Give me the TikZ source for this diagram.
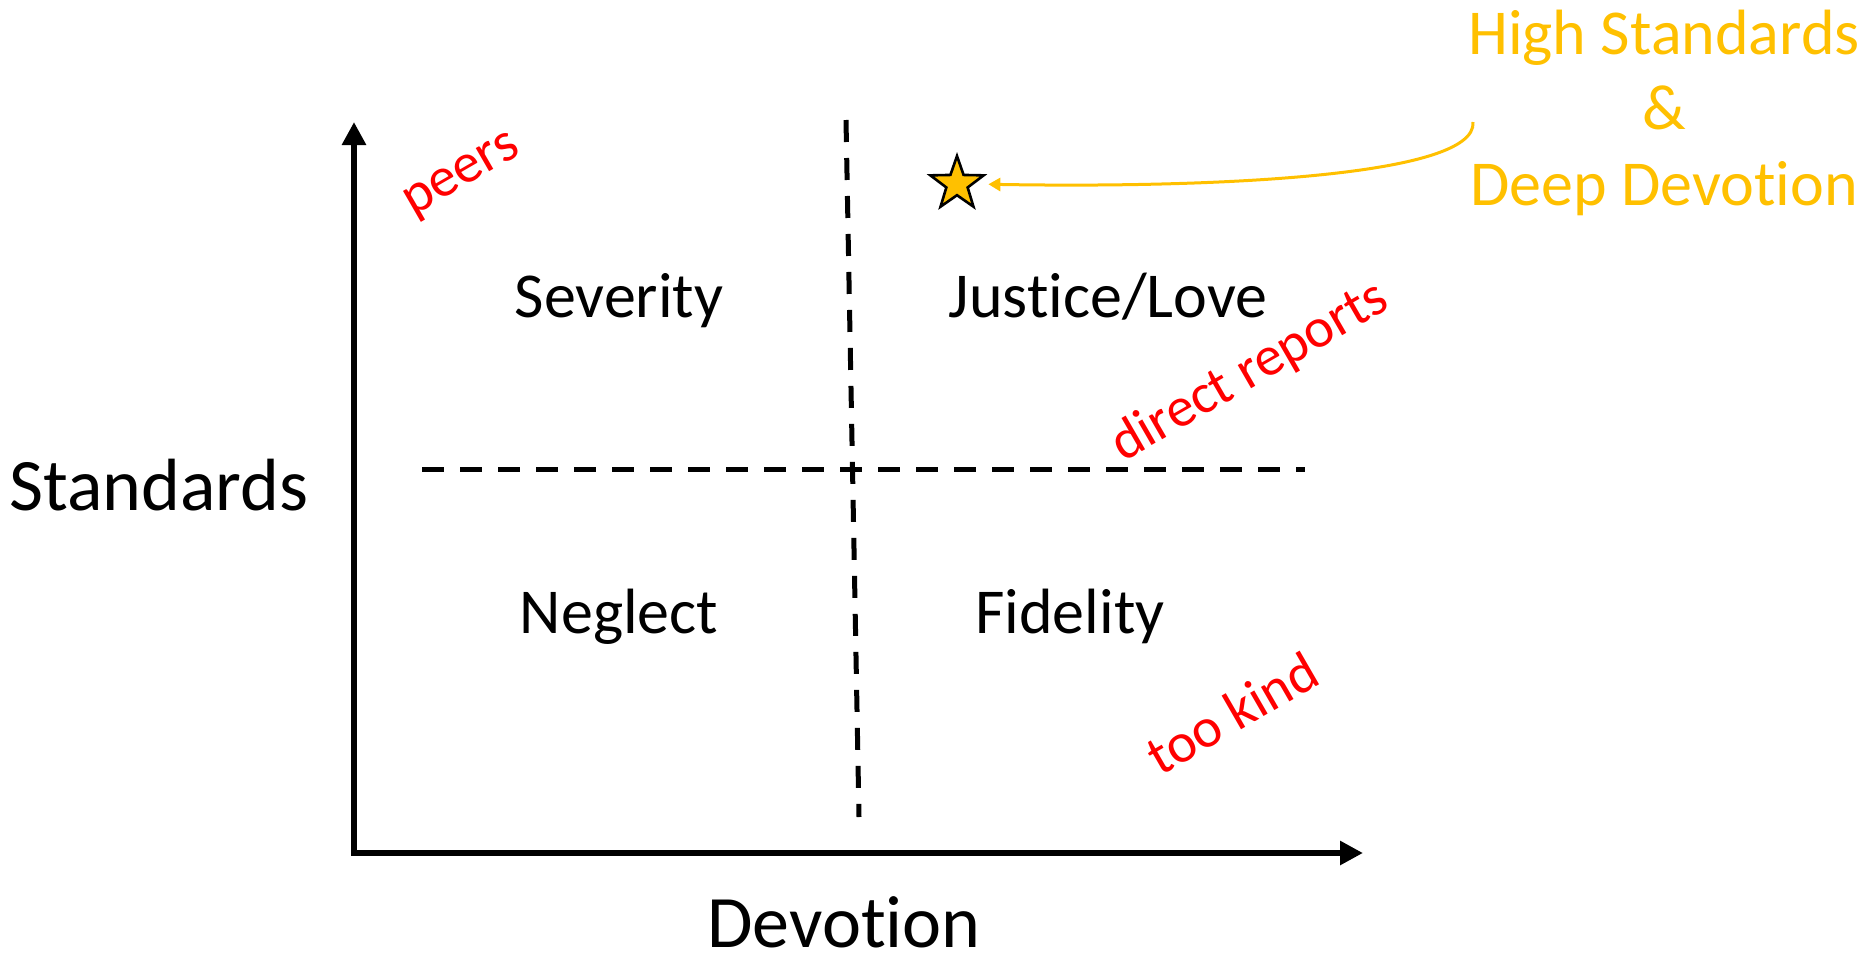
\documentclass[tikz,border=0pt]{standalone}
\usepackage{fontspec}
\setmainfont{Carlito}[Ligatures=NoCommon,Contextuals=NoAlternate]
\usetikzlibrary{arrows.meta,shapes.geometric}
\definecolor{gold}{HTML}{FFC000}
\definecolor{redlbl}{HTML}{FF0000}
\tikzset{
  axis/.style={line width=3pt,{Triangle[length=11.5pt,width=11.5pt]}-{Triangle[length=11.5pt,width=11.5pt]},line join=miter},
  divider/.style={line width=2.5pt,dash pattern=on 11pt off 8pt},
  quad/.style={anchor=base,font=\fontsize{32}{38}\selectfont},
  axlabel/.style={anchor=base,text depth=0pt,font=\fontsize{37}{44}\selectfont},
  redtag/.style={text=redlbl,rotate=30,inner sep=0pt,font=\fontsize{28}{34}\selectfont},
  goldtxt/.style={anchor=base,text=gold,font=\fontsize{32}{38}\selectfont},
  starmark/.style={star,star points=5,star point ratio=2.5,minimum size=28pt,inner sep=0pt,fill=gold,draw=black,line width=1.3pt},
  callout/.style={draw=gold,line width=1.5pt,-{Triangle[length=6pt,width=6.5pt]}}
}
\begin{document}
\begin{tikzpicture}[x=0.5pt,y=-0.5pt]
\useasboundingbox (0,0) rectangle (1870,959);
% axes
\coordinate (origin) at (354,853);
\coordinate (ytip) at (354,122);
\coordinate (xtip) at (1363,853);
\draw[axis] (ytip) -- (origin) -- (xtip);
% dividers
\coordinate (vtop) at (846,120);
\coordinate (vbot) at (859,817);
\coordinate (hleft) at (422,469);
\coordinate (hright) at (1305,469);
\draw[divider] (vtop) -- (vbot);
\draw[divider] (hleft) -- (hright);
% quadrant labels
\node[quad] (sev) at (619,317) {Severity};
\node[quad] (jus) at (1108,317) {Justice/Love};
\node[quad] (neg) at (619,633) {Neglect};
\node[quad] (fid) at (1070,633) {Fidelity};
% axis labels
\node[axlabel] (stdlbl) at (159,510) {Standards};
\node[axlabel] (devlbl) at (844,947) {Devotion};
% red tags
\node[redtag] (peers) at (463,177) {peers};
\node[redtag] (direct) at (1250,372) {direct reports};
\node[redtag] (kind) at (1232,713) {too kind};
% star and callout
\node[starmark] (starnode) at (957,184) {};
\node[goldtxt] (hs) at (1664,54) {High Standards};
\node[goldtxt] (amp) at (1664,129) {\&};
\node[goldtxt] (dd) at (1664,205) {Deep Devotion};
\coordinate (cstart) at (1473,122);
\draw[callout] (cstart) .. controls (1478,178) and (1200,188) .. (starnode.east) [shorten >=7pt];
\end{tikzpicture}
\end{document}
